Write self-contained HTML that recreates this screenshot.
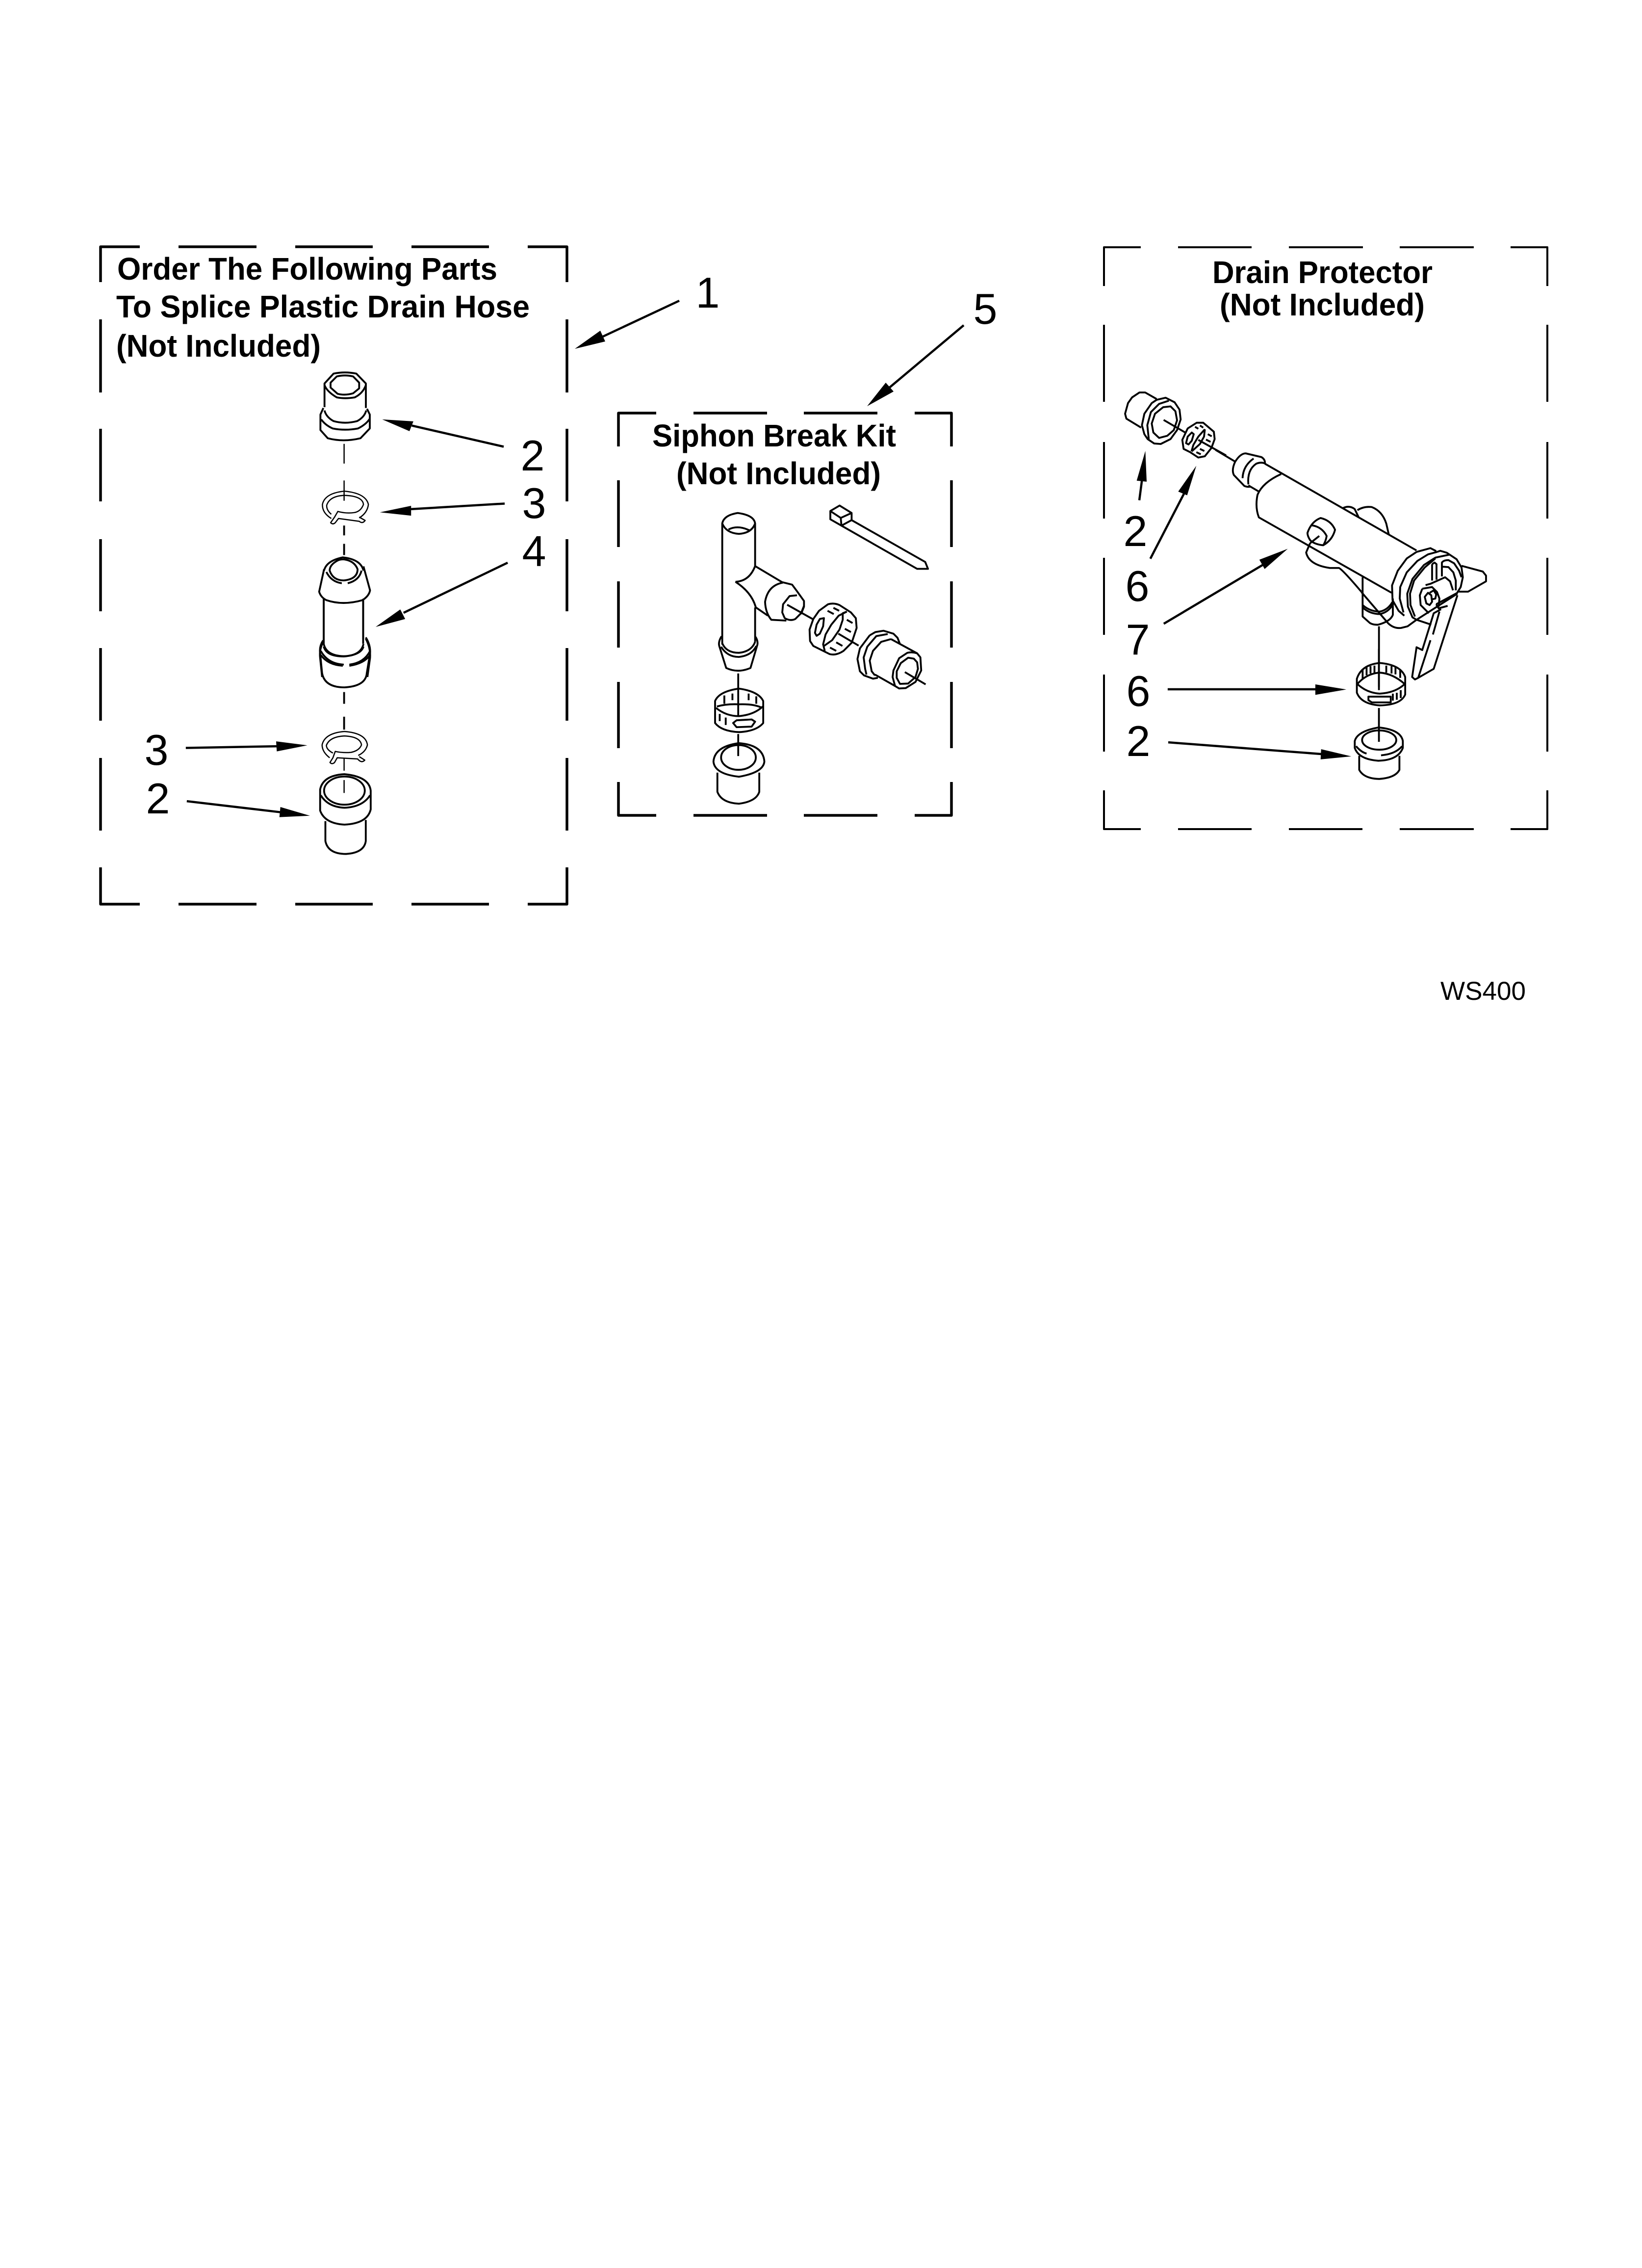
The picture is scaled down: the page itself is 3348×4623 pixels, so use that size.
<!DOCTYPE html>
<html><head><meta charset="utf-8">
<style>
html,body{margin:0;padding:0;background:#fff}
svg{display:block}
path,line,ellipse{vector-effect:non-scaling-stroke;fill:none;stroke:#000;stroke-linejoin:round}
polygon{fill:#000;stroke:none}
.b{font-family:"Liberation Sans",sans-serif;font-weight:bold;font-size:64px}
.n{font-family:"Liberation Sans",sans-serif;font-size:88px;text-anchor:middle}
.f path{stroke-width:5.5}
.f path.d{stroke-width:4}
.p path,.p line,.p ellipse{stroke-width:3.8}
.t path,.t ellipse,.t line{stroke-width:2.5}
.a line{stroke-width:4.5}
</style></head>
<body>
<svg xmlns="http://www.w3.org/2000/svg" width="3348" height="4623" viewBox="0 0 3348 4623">
<rect width="3348" height="4623" fill="#fff"/>

<g class="f">
<path d="M285 503H205V575M364 503H523M602 503H760M839 503H997M1076 503H1156V575M205 651V800M205 874V1022M205 1099V1246M205 1321V1469M205 1545V1693M205 1768V1843H285M364 1843H523M602 1843H760M839 1843H997M1076 1843H1156V1768M1156 651V800M1156 874V1022M1156 1099V1246M1156 1321V1469M1156 1545V1693"/>
<path d="M1338 842H1261V910M1414 842H1564M1639 842H1789M1865 842H1940V910M1261 979V1115M1261 1185V1320M1261 1390V1525M1261 1594V1662H1338M1414 1662H1564M1639 1662H1789M1865 1662H1940V1594M1940 979V1115M1940 1185V1320M1940 1390V1525"/>
<path class="d" d="M2326 504H2251V583M2402 504H2552M2628 504H2779M2854 504H3005M3080 504H3155V583M2251 662V819M2251 901V1057M2251 1137V1294M2251 1375V1532M2251 1611V1690H2326M2402 1690H2552M2628 1690H2778M2854 1690H3005M3080 1690H3155V1611M3155 662V819M3155 901V1057M3155 1137V1294M3155 1375V1532"/>
</g>

<text class="b" x="239" y="570" textLength="775" lengthAdjust="spacingAndGlyphs">Order The Following Parts</text>
<text class="b" x="237" y="647" textLength="843" lengthAdjust="spacingAndGlyphs">To Splice Plastic Drain Hose</text>
<text class="b" x="237" y="727" textLength="417" lengthAdjust="spacingAndGlyphs">(Not Included)</text>
<text class="b" x="1330" y="910" textLength="497" lengthAdjust="spacingAndGlyphs">Siphon Break Kit</text>
<text class="b" x="1379" y="987" textLength="417" lengthAdjust="spacingAndGlyphs">(Not Included)</text>
<text class="b" x="2472" y="577" textLength="449" lengthAdjust="spacingAndGlyphs">Drain Protector</text>
<text class="b" x="2487" y="643" textLength="418" lengthAdjust="spacingAndGlyphs">(Not Included)</text>

<text class="n" x="1443" y="627">1</text>
<text class="n" x="2009" y="660">5</text>
<text class="n" x="1086" y="959">2</text>
<text class="n" x="1089" y="1056">3</text>
<text class="n" x="1089" y="1154">4</text>
<text class="n" x="319" y="1559">3</text>
<text class="n" x="322" y="1658">2</text>
<text class="n" x="2315" y="1113">2</text>
<text class="n" x="2319" y="1225">6</text>
<text class="n" x="2320" y="1334">7</text>
<text class="n" x="2321" y="1439">6</text>
<text class="n" x="2321" y="1541">2</text>
<text x="2937" y="2038" font-family="Liberation Sans, sans-serif" font-size="53" textLength="174" lengthAdjust="spacingAndGlyphs">WS400</text>

<g class="a">
<line x1="1385" y1="613" x2="1225" y2="688"/><polygon points="1172,711 1234,696 1224,674"/>
<line x1="1965" y1="663" x2="1810" y2="793"/><polygon points="1768,828 1822,798 1806,780"/>
</g>

<!-- top fitting, exact 3x -->
<g class="p" transform="translate(600,730) scale(.33333)">
<path d="M185 300V155L240 95Q310 80 380 95L438 155V305"/>
<path d="M185 165Q200 205 260 240Q310 250 370 240Q420 215 438 165"/>
<path d="M222 150L260 112Q310 100 360 112L397 150V185L360 215Q310 230 265 218L222 180Z"/>
<path d="M185 320Q195 360 240 385Q310 405 385 385Q430 360 440 320"/>
<path d="M178 305L160 345V440L205 490Q300 515 405 490L462 430V345L445 310"/>
<path d="M165 375Q190 410 235 430Q310 445 390 430Q440 405 462 370"/>
</g>

<!-- crop 1 coordinates -->
<g transform="translate(180,480) scale(.6696,.574)">
<g class="a">
<line x1="1265" y1="750" x2="985" y2="675"/><polygon points="895,653 990,660 978,695"/>
<line x1="1268" y1="952" x2="980" y2="972"/><polygon points="888,983 983,960 983,995"/>
<line x1="1277" y1="1162" x2="960" y2="1340"/><polygon points="875,1390 950,1328 965,1362"/>
</g>
<g class="p">
<path d="M718 1190Q725 1155 775 1143Q830 1150 838 1190"/>
<path d="M758 1155Q735 1170 735 1190Q745 1225 778 1225Q820 1220 820 1185Q810 1155 778 1150Q765 1150 758 1155Z"/>
<path d="M718 1185L703 1265Q708 1285 725 1295Q775 1315 835 1295Q855 1280 858 1260L838 1175"/>
<path d="M717 1290V1450M837 1290V1450"/>
<path d="M725 1195Q740 1230 772 1235M790 1235Q825 1225 832 1190"/>
<path d="M715 1445Q703 1470 706 1500L712 1568M845 1432Q860 1465 858 1500L850 1568"/>
<path d="M717 1460Q725 1495 778 1495Q830 1490 838 1460"/>
<path d="M708 1490Q730 1525 775 1528M795 1528Q840 1520 858 1490"/>
<line x1="779" y1="1030" x2="779" y2="1065"/><line x1="779" y1="1095" x2="779" y2="1135"/>
</g>
<g class="t">
<line x1="779" y1="740" x2="779" y2="810"/><line x1="779" y1="870" x2="779" y2="942"/>
<path d="M740 1005Q712 985 713 955Q720 915 780 908Q845 915 853 955Q850 985 825 1003"/>
<path d="M740 990Q725 975 726 958Q735 925 780 923Q835 925 838 955Q830 980 810 984Q785 988 760 980L750 1000L738 1020Q745 1028 752 1020L762 1005L825 1015Q835 1025 843 1012L825 1000"/>
</g>
</g>

<!-- crop 2 coordinates -->
<g transform="translate(180,1150) scale(.6696,.4783)">
<g class="a">
<line x1="297" y1="783" x2="575" y2="776"/><polygon points="667,772 572,755 574,798"/>
<line x1="300" y1="1010" x2="585" y2="1057"/><polygon points="675,1072 585,1035 582,1078"/>
</g>
<g class="p">
<path d="M717 150V340M837 150V320"/>
<path d="M717 340Q725 390 778 392Q830 390 838 340"/>
<path d="M715 325Q703 350 706 380L712 465Q720 525 780 525Q845 520 848 465L858 380Q860 345 845 312"/>
<path d="M708 370Q730 425 778 428M795 428Q840 420 858 370"/>
<line x1="779" y1="545" x2="779" y2="595"/><line x1="779" y1="650" x2="779" y2="705"/>
<path d="M706 1050V960Q715 900 780 895Q855 905 860 965V1045Q850 1105 780 1110Q720 1105 706 1050Z"/>
<ellipse cx="780" cy="965" rx="62" ry="60"/>
<path d="M708 985Q730 1035 780 1038Q835 1035 858 985"/>
<path d="M722 1095V1180Q730 1235 785 1235Q840 1230 845 1180V1090"/>
</g>
<g class="t">
<line x1="779" y1="825" x2="779" y2="880"/><line x1="779" y1="920" x2="779" y2="975"/>
<path d="M735 825Q712 800 712 770Q720 720 780 713Q845 720 850 770Q845 800 822 815"/>
<path d="M745 805Q725 790 725 772Q735 735 780 732Q828 735 832 770Q825 795 800 802Q775 805 752 798L745 825L736 845Q742 855 750 845L758 825L820 830Q832 850 842 835L825 820"/>
</g>
</g>

<!-- crop 3 coordinates -->
<g transform="translate(1240,820) scale(.4719,.5612)">
<g class="p">
<path d="M493 440V880M635 440V595M635 745V870"/>
<path d="M493 440Q500 410 560 402Q630 410 635 440Q620 475 565 478Q510 475 493 440Z"/>
<path d="M520 462Q560 445 610 465"/>
<path d="M635 595L755 655M550 652Q610 650 635 595M550 652Q620 690 638 745L690 775"/>
<path d="M755 655Q690 665 678 725Q680 765 705 790L770 793"/>
<path d="M960 395L1000 375L1052 402V428L1008 448L960 425Z"/>
<path d="M960 395L1005 420L1052 402M1005 420L1008 448"/>
<path d="M1052 428L1370 580L1382 605L1335 605L1008 448"/>
<path d="M490 850Q475 870 480 885L510 965Q560 985 615 965L645 880Q648 865 635 850"/>
<path d="M493 875Q510 910 565 910Q620 905 635 870"/>
<path d="M488 888Q515 925 565 925Q620 920 640 885"/>
<line x1="562" y1="985" x2="562" y2="1140"/><line x1="562" y1="1205" x2="562" y2="1285"/>
<path d="M462 1085Q480 1050 565 1040Q650 1050 670 1085V1165Q640 1195 565 1198Q490 1195 462 1165Z"/>
<path d="M470 1105Q510 1095 565 1097Q630 1095 665 1110"/>
<path d="M466 1110Q510 1140 565 1140Q630 1135 668 1105"/>
<path d="M502 1065V1095M537 1058V1082M607 1058V1082M640 1068V1095M482 1132V1158M508 1145V1172"/>
<path d="M540 1165L555 1155L620 1152L635 1160L620 1178L555 1180Z"/>
<path d="M455 1305Q460 1250 565 1238Q670 1245 675 1305Q670 1345 565 1360Q460 1350 455 1305Z"/>
<ellipse cx="563" cy="1290" rx="75" ry="45"/>
<path d="M472 1345V1415Q490 1455 565 1458Q640 1450 653 1415V1345"/>
</g>
</g>

<!-- siphon ring and fitting, exact 3x -->
<g class="p" transform="translate(1580,1120) scale(.33333)">
<path d="M45 200L105 215L135 255L178 315V350L160 395"/>
<path d="M135 280L90 285L50 335L45 385L60 420Q95 440 125 425L160 390L178 345"/>
<path d="M75 338L230 425"/>
<path d="M235 425L270 375L325 335Q360 325 395 340L465 385L495 420L500 480L470 570L420 620Q375 650 335 640L235 590L215 560L212 490Z"/>
<path d="M440 380L390 405L345 460L310 520L295 580L305 620"/>
<path d="M440 380L415 390V430L395 490L350 555L300 590"/>
<path d="M300 420L275 425L255 460L245 510L255 528L275 515L295 470Z"/>
<path d="M322 375L360 395M358 357L393 375M440 430L475 450M428 485L465 505M375 568L413 590M337 600L375 620"/>
<path d="M388 515L512 588"/>
<path d="M580 525L615 505L665 497L725 515L750 540L765 578"/>
<path d="M580 525L520 605L505 670L520 745L545 770L600 790L630 785"/>
<path d="M690 517L620 530L565 595L543 660L552 730L560 765"/>
<path d="M710 548L650 565L600 620L580 680L592 745L612 770"/>
<path d="M710 548L870 635M612 765L735 835"/>
<path d="M870 635L890 660L895 740L860 810L800 848L760 850L735 835L720 780L725 740L760 665L810 632Q840 625 870 635Z"/>
<path d="M815 662L770 695L745 745V785L765 822L815 820L860 780L875 730L870 690L850 668Z"/>
<path d="M795 750L922 825"/>
</g>

<!-- drain cap and ring, exact 3x -->
<g class="p" transform="translate(2280,780) scale(.33333)">
<path d="M235 100L165 60H130L85 90L60 125L42 190L50 220L140 275"/>
<path d="M235 105L290 92L345 120L375 165L382 225L360 290L320 345L260 375L220 372L180 345L160 315L145 260L160 190L205 125Z"/>
<path d="M310 110L250 130L200 180L178 260L187 345"/>
<path d="M320 145L275 150L225 190L205 250L215 305L250 338L300 325L340 290L360 230L350 175Z"/>
<path d="M278 228L410 305"/>
<path d="M392 350L425 280L480 245L520 245L585 300L590 345L570 400L530 450L490 458L440 425L400 405Z"/>
<path d="M530 285L490 330L460 380L448 420M530 285L525 330L500 375L450 420"/>
<path d="M450 305L425 330L415 370L430 378L450 355L462 315Z"/>
<path d="M470 270L490 282M500 262L520 275M548 315L572 328M537 348L565 362M500 405L527 418M478 425L505 438"/>
<path d="M490 350L660 445"/>
</g>

<!-- crop 4 coordinates -->
<g transform="translate(2240,760) scale(.5357,.4209)">
<g class="a">
<line x1="155" y1="617" x2="165" y2="520"/><polygon points="178,378 145,522 183,527"/>
<line x1="197" y1="900" x2="325" y2="585"/><polygon points="372,450 303,575 337,593"/>
<line x1="248" y1="1215" x2="625" y2="930"/><polygon points="720,852 612,905 632,950"/>
</g>
<g class="p">
<line x1="520" y1="430" x2="445" y2="373"/>
<path d="M520 430Q505 470 515 495L555 548Q570 555 580 550M520 430Q540 390 560 390L620 408Q635 420 633 440"/>
<path d="M548 510Q550 450 590 415"/>
<path d="M570 540Q565 470 600 440Q620 430 635 440"/>
<path d="M633 440L1210 860"/>
<path d="M695 490Q625 530 605 590Q595 650 610 700L1115 1065"/>
<path d="M570 545L610 575"/>
<path d="M795 775Q810 720 845 703Q885 715 900 760Q890 810 855 835Q820 830 805 810Q795 790 795 775Z"/>
<path d="M810 738Q850 745 868 790Q865 815 855 835"/>
<line x1="840" y1="790" x2="805" y2="825"/>
<path d="M805 825L790 870Q800 930 880 945L915 945Q930 955 1000 1060"/>
<path d="M930 655Q955 640 975 660L990 700M985 665Q1010 645 1040 650Q1080 670 1095 730L1105 785"/>
</g>
</g>

<!-- flange and lever, exact 3x -->
<g class="p" transform="translate(2780,1000) scale(.33333)">
<path d="M-13 620L150 810Q185 845 230 840L270 830L325 790"/>
<path d="M-5 530V770L40 810Q60 822 90 820Q165 800 180 760V660"/>
<path d="M-5 700Q40 740 100 740Q150 730 178 680M-5 715Q40 755 100 755Q150 745 178 700"/>
<path d="M95 830V1200"/>
<path d="M325 375L410 352L445 370M325 375L265 415L210 490L175 580L178 670L215 735L250 765"/>
<path d="M450 375L395 390L330 430L265 500L225 590L222 660L245 745"/>
<path d="M450 375L470 368L510 380L570 420L600 470L608 530L595 590L570 630"/>
<path d="M525 392L440 410L370 455L300 540L268 630L272 710L300 775L325 790"/>
<path d="M440 415L375 470L310 550L285 630L288 700L315 770"/>
<path d="M420 450V550M420 450L435 440L447 450V545"/>
<path d="M480 525V440Q490 425 520 425L555 445L585 490L600 530M480 465L520 468L550 500L565 550V610"/>
<path d="M380 578L410 570L500 530L530 555L548 610"/>
<path d="M360 600L345 640L350 700L400 750M360 600L420 590L450 620L465 660L460 710"/>
<path d="M375 650L395 625L415 640L420 680L405 700L385 690Z"/>
<path d="M405 625L430 610L445 635L440 660L420 665"/>
<path d="M575 640L430 1090L335 1145L315 1155L298 1140L325 958L360 975L430 750L475 725"/>
<path d="M465 740L425 880M410 915L335 1145"/>
<path d="M445 695L575 625M445 695L460 720L515 705"/>
<path d="M600 460L730 495L750 520V555L640 618H580"/>
<path d="M325 790L575 630M325 790L415 820"/>
</g>

<!-- crop 5 coordinates -->
<g transform="translate(2240,1180) scale(.5357,.3571)">
<g class="a">
<line x1="263" y1="630" x2="830" y2="630"/><polygon points="943,631 825,602 825,662"/>
<line x1="265" y1="933" x2="850" y2="1000"/><polygon points="962,1013 847,972 845,1030"/>
</g>
<g class="p">
<line x1="1067" y1="400" x2="1067" y2="635"/>
<line x1="1067" y1="737" x2="1067" y2="845"/>
<line x1="1067" y1="845" x2="1067" y2="930"/>
<path d="M983 570Q1000 490 1070 480Q1150 490 1167 560V660Q1150 720 1070 722Q1000 715 983 650Z"/>
<path d="M985 600Q1020 540 1070 535Q1120 540 1165 600Q1130 650 1070 655Q1020 650 985 600Z"/>
<path d="M1005 520V570M1020 505V550M1035 498V540M1050 495V535M1095 495V535M1115 498V540M1130 505V545M1148 515V565M1120 655V695M1135 650V690M1150 635V680"/>
<path d="M1027 672H1112V705H1040L1027 692Z"/>
<path d="M975 925Q985 870 1065 848Q1150 860 1158 925V965Q1140 1035 1065 1038Q990 1030 975 965Z"/>
<ellipse cx="1068" cy="920" rx="65" ry="55"/>
<path d="M980 955Q1000 990 1020 997M1075 1007Q1130 1000 1155 955"/>
<path d="M992 1010V1090Q1010 1140 1068 1142Q1130 1135 1145 1090V1010"/>
</g>
</g>
</svg>
</body></html>
